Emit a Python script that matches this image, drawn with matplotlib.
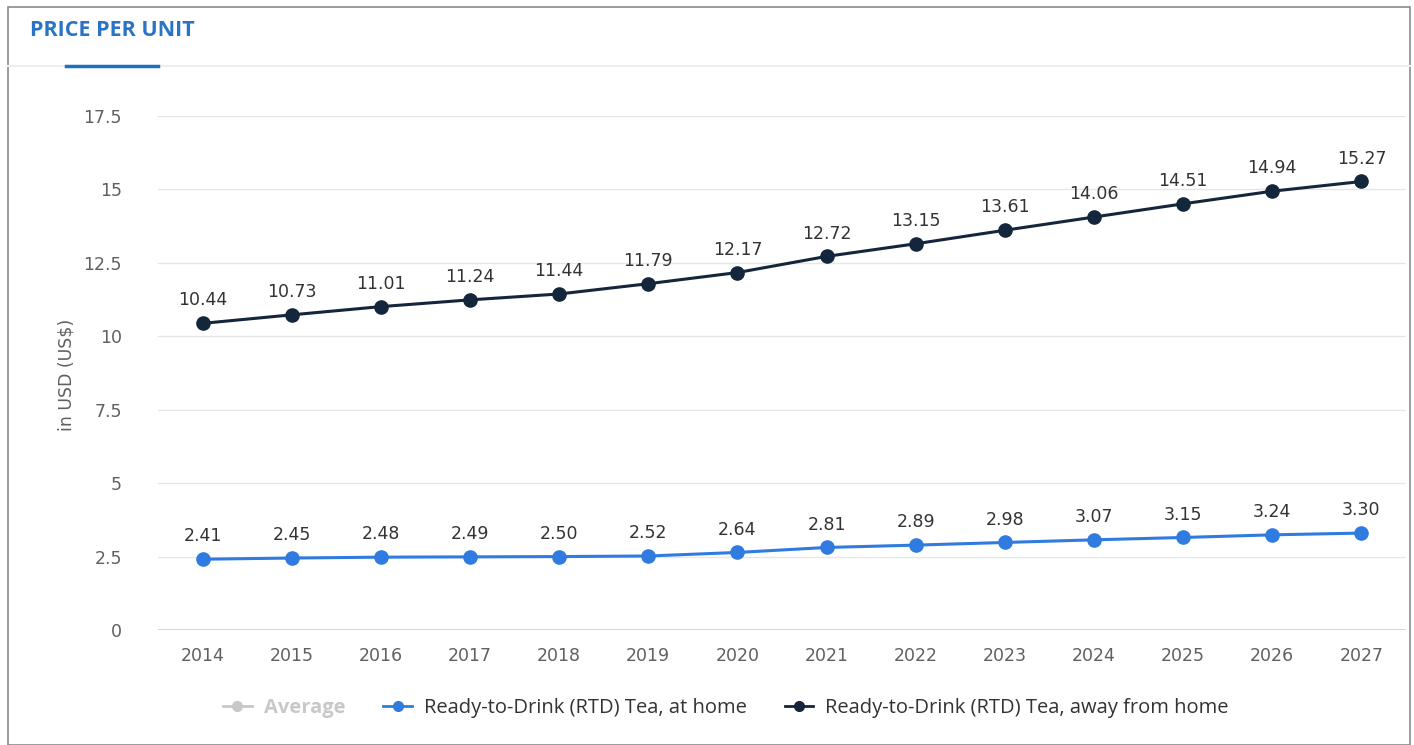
import matplotlib
matplotlib.use("Agg")
import matplotlib.pyplot as plt
from matplotlib.patches import Rectangle
from matplotlib.lines import Line2D

plt.rcParams['font.family'] = ['Open Sans', 'DejaVu Sans']

years = ['2014', '2015', '2016', '2017', '2018', '2019', '2020',
         '2021', '2022', '2023', '2024', '2025', '2026', '2027']
at_home = [2.41, 2.45, 2.48, 2.49, 2.50, 2.52, 2.64,
           2.81, 2.89, 2.98, 3.07, 3.15, 3.24, 3.30]
away_home = [10.44, 10.73, 11.01, 11.24, 11.44, 11.79, 12.17,
             12.72, 13.15, 13.61, 14.06, 14.51, 14.94, 15.27]
y_ticks = [0, 2.5, 5, 7.5, 10, 12.5, 15, 17.5]
y_tick_labels = ['0', '2.5', '5', '7.5', '10', '12.5', '15', '17.5']

BLUE = '#2f7be0'
NAVY = '#14263b'
GREY_TXT = '#606060'
NUM_FONT = ['DejaVu Sans']

W, H = 1414, 745
fig = plt.figure(figsize=(W / 100, H / 100), dpi=100)

# card frame and header
fig.patches.append(Rectangle((8 / W, 0), 1402 / W, (H - 7) / H, transform=fig.transFigure,
                             fill=False, edgecolor='#8a8a8a', linewidth=1.2))
fig.lines.append(Line2D([8 / W, 1410 / W], [1 - 66 / H] * 2, transform=fig.transFigure,
                        color='#eeeeee', linewidth=1.5))
fig.lines.append(Line2D([66 / W, 158 / W], [1 - 66 / H] * 2, transform=fig.transFigure,
                        color='#1f6fc5', linewidth=2.5))
fig.text(30 / W, 1 - 31 / H, 'PRICE PER UNIT', color='#2a74c6', fontsize=15.5,
         fontweight='bold', va='center', ha='left')

ax = fig.add_axes([158 / W, 115 / H, 1248 / W, 514 / H])
x = list(range(len(years)))

ax.plot(x, away_home, color=NAVY, linewidth=2.2, marker='o', markersize=9.5, zorder=3)
ax.plot(x, at_home, color=BLUE, linewidth=2.2, marker='o', markersize=9.5, zorder=3)

for xi, v in zip(x, away_home):
    ax.annotate(f'{v:.2f}', (xi, v), xytext=(0, 10), textcoords='offset points',
                ha='center', va='bottom', fontsize=12.5, color='#333333', family=NUM_FONT)
for xi, v in zip(x, at_home):
    ax.annotate(f'{v:.2f}', (xi, v), xytext=(0, 10), textcoords='offset points',
                ha='center', va='bottom', fontsize=12.5, color='#333333', family=NUM_FONT)

ax.set_xlim(-0.5, len(years) - 0.5)
ax.set_ylim(0, 17.5)
ax.set_xticks(x)
ax.set_xticklabels(years, family=NUM_FONT)
ax.set_yticks(y_ticks)
ax.set_yticklabels(y_tick_labels, family=NUM_FONT)
ax.tick_params(axis='both', length=0, labelsize=12.5, labelcolor=GREY_TXT)
ax.tick_params(axis='y', pad=26)
ax.tick_params(axis='x', pad=12)
ax.grid(axis='y', color='#e6e6e6', linewidth=1)
ax.set_axisbelow(True)
for s in ax.spines.values():
    s.set_visible(False)
ax.axhline(0, color='#cfcfcf', linewidth=1.2, zorder=1)

fig.text(66 / W, 1 - 375 / H, 'in USD (US$)', rotation=90, va='center', ha='center',
         fontsize=12.5, color=GREY_TXT, family=NUM_FONT)

handles = [
    Line2D([], [], color='#c8c8c8', marker='o', markersize=7, linewidth=2),
    Line2D([], [], color=BLUE, marker='o', markersize=7, linewidth=2),
    Line2D([], [], color=NAVY, marker='o', markersize=7, linewidth=2),
]
labels = ['Average', 'Ready-to-Drink (RTD) Tea, at home',
          'Ready-to-Drink (RTD) Tea, away from home']
leg = fig.legend(handles, labels, loc='center', bbox_to_anchor=(726 / W, 1 - 708 / H),
                 ncol=3, frameon=False, fontsize=14.5, handlelength=1.4,
                 columnspacing=1.9, handletextpad=0.6)
for t, c in zip(leg.get_texts(), ['#c8c8c8', '#333333', '#333333']):
    t.set_color(c)
leg.get_texts()[0].set_fontweight('bold')

fig.savefig('out.png', dpi=100)
